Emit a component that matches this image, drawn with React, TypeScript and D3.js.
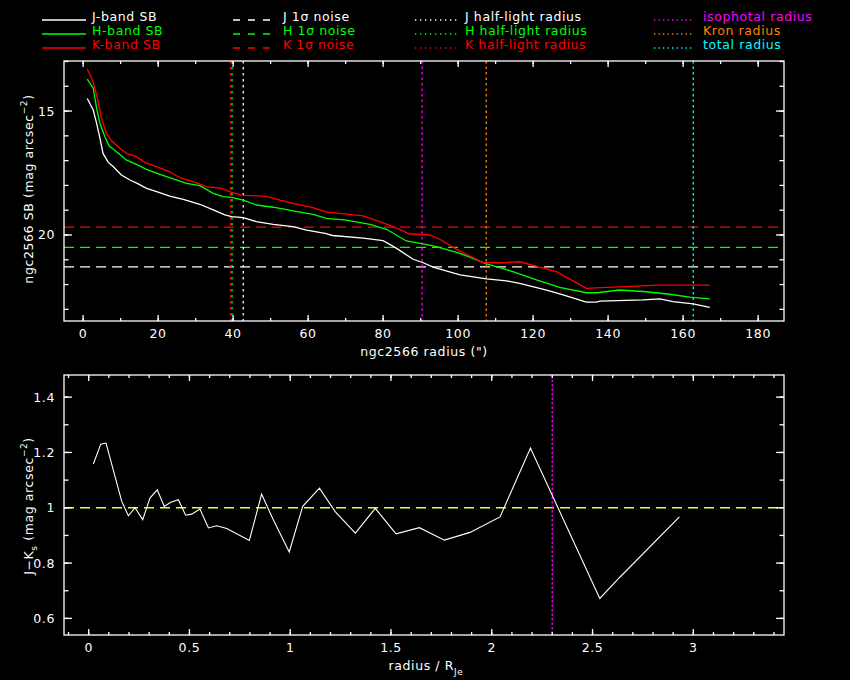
import * as d3 from 'd3';

const W = 850;
const H = 680;
const FONT = '"DejaVu Sans", sans-serif';

// surface brightness profiles: [radius ("), SB (mag arcsec^-2)]
const jProfile: [number, number][] = [
  [1.1, 14.49], [2.7, 14.96], [3.6, 15.5], [4.5, 16.1], [5.3, 16.71], [6.7, 17.07], [8.0, 17.24],
  [10.2, 17.58], [12.5, 17.78], [14.7, 17.94], [16.9, 18.12], [19.6, 18.25], [23.1, 18.43],
  [26.7, 18.56], [31.1, 18.76], [34.7, 18.99], [37.8, 19.19], [39.6, 19.26], [42.7, 19.3],
  [46.2, 19.46], [50.7, 19.57], [56.0, 19.66], [59.6, 19.8], [64.5, 19.93], [66.5, 20.02],
  [74.7, 20.13], [80.0, 20.23], [83.6, 20.54], [88.0, 20.98], [90.7, 21.12], [93.3, 21.3],
  [100.5, 21.61], [107.6, 21.77], [112.9, 21.85], [116.4, 21.95], [123.6, 22.22], [128.0, 22.42],
  [134.2, 22.71], [136.9, 22.71], [137.8, 22.67], [149.3, 22.62], [153.8, 22.58], [157.3, 22.69],
  [162.7, 22.78], [167.1, 22.92],
];
const hProfile: [number, number][] = [
  [1.1, 13.71], [2.7, 14.08], [3.6, 14.89], [4.5, 15.5], [5.8, 16.04], [6.9, 16.4], [8.9, 16.64],
  [11.6, 16.98], [14.2, 17.15], [16.9, 17.35], [20.5, 17.55], [24.0, 17.74], [27.6, 17.92],
  [31.1, 18.01], [34.7, 18.32], [37.3, 18.45], [39.6, 18.48], [42.7, 18.59], [46.2, 18.79],
  [50.7, 18.88], [56.0, 19.03], [61.3, 19.17], [64.9, 19.33], [70.2, 19.4], [76.5, 19.57],
  [80.9, 19.77], [86.2, 20.24], [90.7, 20.36], [94.2, 20.47], [100.5, 20.74], [107.6, 21.17],
  [113.8, 21.44], [120.9, 21.81], [127.1, 22.11], [134.2, 22.33], [136.9, 22.33], [143.1, 22.22],
  [150.2, 22.29], [156.4, 22.39], [161.8, 22.51], [167.1, 22.58],
];
const kProfile: [number, number][] = [
  [1.1, 13.31], [2.5, 13.75], [3.6, 14.35], [4.9, 15.3], [6.2, 15.9], [7.6, 16.21], [9.8, 16.5],
  [11.6, 16.71], [14.2, 16.84], [16.5, 17.08], [19.6, 17.24], [23.1, 17.45], [25.8, 17.69],
  [29.3, 17.85], [32.9, 18.05], [36.9, 18.12], [39.6, 18.28], [42.2, 18.39], [48.9, 18.44],
  [52.5, 18.59], [56.0, 18.72], [61.3, 18.9], [64.9, 19.08], [68.5, 19.13], [74.7, 19.23],
  [79.1, 19.46], [82.7, 19.66], [87.1, 19.96], [92.4, 20.0], [95.1, 20.17], [99.6, 20.58],
  [106.7, 21.12], [112.0, 21.12], [116.4, 21.08], [121.8, 21.3], [126.2, 21.48], [134.2, 22.15],
  [139.6, 22.11], [147.6, 22.06], [152.9, 22.02], [167.1, 22.02],
];

// 1-sigma noise levels (J, H, K)
const noiseLevels = [21.29, 20.5, 19.68];
// radii: J/H/K half-light, isophotal, Kron, total
const halfLight = [42.7, 39.7, 39.3];
const isophotalRadius = 90.4;
const kronRadius = 107.5;
const totalRadius = 162.7;

// colour profile J-Ks vs radius / R_Je
const colourR = [
  0.023, 0.06, 0.086, 0.164, 0.197, 0.23, 0.268, 0.304, 0.34, 0.375, 0.407, 0.445, 0.481, 0.511,
  0.552, 0.594, 0.635, 0.685, 0.797, 0.858, 0.916, 0.995, 1.062, 1.145, 1.222, 1.323, 1.422,
  1.525, 1.641, 1.765, 1.892, 2.041, 2.192, 2.536, 2.633, 2.931,
];
const colourJK = [
  1.158, 1.23, 1.234, 1.023, 0.971, 1.0, 0.957, 1.035, 1.065, 1.005, 1.02, 1.029, 0.973, 0.977,
  0.995, 0.927, 0.935, 0.925, 0.882, 1.049, 0.957, 0.84, 1.005, 1.071, 0.987, 0.908, 0.998,
  0.906, 0.928, 0.883, 0.911, 0.967, 1.216, 0.672, 0.747, 0.967,
];
const colourRef = 1.0;
const isophotalRel = 2.3;

const topXTicks = d3.range(0, 181, 20);
const topXMinor = d3.range(0, 181, 10);
const topYTicks = [15, 20];
const topYMinor = d3.range(13, 24, 1);
const botXTicks = [0, 0.5, 1, 1.5, 2, 2.5, 3];
const botXMinor = d3.range(-0.1, 3.45, 0.1);
const botYTicks = [0.6, 0.8, 1, 1.2, 1.4];
const botYMinor = d3.range(0.6, 1.45, 0.1);

const WHITE = '#ffffff';
const GREEN = '#00ff00';
const RED = '#ff0000';
const MAGENTA = '#ff00ff';
const ORANGE = '#ff8000';
const CYAN = '#00ffff';
const YELLOW = '#ffff00';

const top = { l: 64, r: 784, t: 61, b: 321 };
const bot = { l: 64, r: 784, t: 375, b: 635 };

const xTop = d3.scaleLinear([-5.1, 186.9], [top.l, top.r]);
const yTop = d3.scaleLinear([12.98, 23.47], [top.t, top.b]);
const xBot = d3.scaleLinear([-0.1225, 3.45], [bot.l, bot.r]);
const yBot = d3.scaleLinear([0.54, 1.48], [bot.b, bot.t]);

const txt = { fill: WHITE, fontFamily: FONT, fontSize: 12.5, letterSpacing: 0.6 };

function Frame({ box, xs, ys, xMajor, xMinor, yMajor, yMinor }: any) {
  const out: any[] = [];
  xMinor.forEach((v: number, i: number) => {
    const x = xs(v);
    out.push(<line key={'xb' + i} x1={x} x2={x} y1={box.b} y2={box.b - 3} />);
    out.push(<line key={'xt' + i} x1={x} x2={x} y1={box.t} y2={box.t + 3} />);
  });
  xMajor.forEach((v: number, i: number) => {
    const x = xs(v);
    out.push(<line key={'Xb' + i} x1={x} x2={x} y1={box.b} y2={box.b - 6} />);
    out.push(<line key={'Xt' + i} x1={x} x2={x} y1={box.t} y2={box.t + 6} />);
  });
  yMinor.forEach((v: number, i: number) => {
    const y = ys(v);
    out.push(<line key={'yl' + i} x1={box.l} x2={box.l + 4.5} y1={y} y2={y} />);
    out.push(<line key={'yr' + i} x1={box.r} x2={box.r - 4.5} y1={y} y2={y} />);
  });
  yMajor.forEach((v: number, i: number) => {
    const y = ys(v);
    out.push(<line key={'Yl' + i} x1={box.l} x2={box.l + 8} y1={y} y2={y} />);
    out.push(<line key={'Yr' + i} x1={box.r} x2={box.r - 8} y1={y} y2={y} />);
  });
  return (
    <g stroke={WHITE} strokeWidth={1.3} fill="none">
      {out}
      <rect x={box.l} y={box.t} width={box.r - box.l} height={box.b - box.t} />
    </g>
  );
}

export default function App() {
  const line = d3.line<[number, number]>().x(d => xTop(d[0])).y(d => yTop(d[1]));
  const colLine = d3.line<number>().x((_, i) => xBot(colourR[i])).y(d => yBot(d));
  const bandColours = [WHITE, GREEN, RED];
  const profiles = [jProfile, hProfile, kProfile];

  const legend1 = ['J-band SB', 'H-band SB', 'K-band SB'];
  const legend2 = ['J 1σ noise', 'H 1σ noise', 'K 1σ noise'];
  const legend3 = ['J half-light radius', 'H half-light radius', 'K half-light radius'];
  const legend4 = ['isophotal radius', 'Kron radius', 'total radius'];
  const legend4Col = [MAGENTA, ORANGE, CYAN];
  const rowY = [20, 34, 48];

  return (
    <svg width={W} height={H} style={{ position: 'absolute', left: 0, top: 0, background: '#000' }}>
      <rect width={W} height={H} fill="#000" />

      {/* legend */}
      {rowY.map((y, i) => (
        <g key={'lg' + i}>
          <line x1={42} x2={86} y1={y} y2={y} stroke={bandColours[i]} strokeWidth={1.3} />
          <text x={92} y={y + 0.8} {...txt} fill={bandColours[i]}>{legend1[i]}</text>
          <line x1={233} x2={277} y1={y} y2={y} stroke={bandColours[i]} strokeWidth={1.3} strokeDasharray="7,8" />
          <text x={283} y={y + 0.8} {...txt} fill={bandColours[i]}>{legend2[i]}</text>
          <line x1={415} x2={458} y1={y} y2={y} stroke={bandColours[i]} strokeWidth={1.3} strokeDasharray="1.3,3.7" />
          <text x={465} y={y + 0.8} {...txt} fill={bandColours[i]}>{legend3[i]}</text>
          <line x1={654} x2={694} y1={y} y2={y} stroke={legend4Col[i]} strokeWidth={1.3} strokeDasharray="1.3,3.2" />
          <text x={703} y={y + 0.8} {...txt} fill={legend4Col[i]}>{legend4[i]}</text>
        </g>
      ))}

      {/* top panel */}
      <defs>
        <clipPath id="clipTop"><rect x={top.l} y={top.t} width={top.r - top.l} height={top.b - top.t} /></clipPath>
        <clipPath id="clipBot"><rect x={bot.l} y={bot.t} width={bot.r - bot.l} height={bot.b - bot.t} /></clipPath>
      </defs>
      <g clipPath="url(#clipTop)">
        {noiseLevels.map((v, i) => (
          <line key={'n' + i} x1={top.l} x2={top.r} y1={yTop(v)} y2={yTop(v)}
            stroke={bandColours[i]} strokeWidth={1.3} strokeDasharray="10,6" />
        ))}
        {halfLight.map((v, i) => (
          <line key={'hl' + i} x1={xTop(v)} x2={xTop(v)} y1={top.t} y2={top.b}
            stroke={bandColours[i]} strokeWidth={1.3} strokeDasharray="2.5,3.5" />
        ))}
        <line x1={xTop(isophotalRadius)} x2={xTop(isophotalRadius)} y1={top.t} y2={top.b}
          stroke={MAGENTA} strokeWidth={1.3} strokeDasharray="2.5,3" />
        <line x1={xTop(kronRadius)} x2={xTop(kronRadius)} y1={top.t} y2={top.b}
          stroke={ORANGE} strokeWidth={1.3} strokeDasharray="2.5,3" />
        <line x1={xTop(totalRadius)} x2={xTop(totalRadius)} y1={top.t} y2={top.b}
          stroke={CYAN} strokeWidth={1.3} strokeDasharray="2.5,3" />
        {profiles.map((p, i) => (
          <path key={'p' + i} d={line(p) ?? ''} fill="none" stroke={bandColours[i]} strokeWidth={1.3} />
        ))}
      </g>
      <Frame box={top} xs={xTop} ys={yTop} xMajor={topXTicks} xMinor={topXMinor} yMajor={topYTicks} yMinor={topYMinor} />
      {topXTicks.map(v => (
        <text key={'tx' + v} x={xTop(v)} y={338} textAnchor="middle" {...txt}>{v}</text>
      ))}
      {topYTicks.map(v => (
        <text key={'ty' + v} x={55} y={yTop(v) + 4.5} textAnchor="end" {...txt}>{v}</text>
      ))}
      <text x={424} y={356} textAnchor="middle" {...txt}>ngc2566 radius (")</text>
      <text transform="translate(33,189) rotate(-90)" textAnchor="middle" {...txt}>
        ngc2566 SB (mag arcsec<tspan dy={-6} fontSize={9}>−2</tspan><tspan dy={6}>)</tspan>
      </text>

      {/* bottom panel */}
      <g clipPath="url(#clipBot)">
        <line x1={bot.l} x2={bot.r} y1={yBot(colourRef)} y2={yBot(colourRef)}
          stroke={YELLOW} strokeWidth={1.3} strokeDasharray="10,6" />
        <line x1={xBot(isophotalRel)} x2={xBot(isophotalRel)} y1={bot.t} y2={bot.b}
          stroke={MAGENTA} strokeWidth={1.3} strokeDasharray="2.5,2" />
        <path d={colLine(colourJK) ?? ''} fill="none" stroke={WHITE} strokeWidth={1.1} />
      </g>
      <Frame box={bot} xs={xBot} ys={yBot} xMajor={botXTicks} xMinor={botXMinor} yMajor={botYTicks} yMinor={botYMinor} />
      {botXTicks.map(v => (
        <text key={'bx' + v} x={xBot(v)} y={652} textAnchor="middle" {...txt}>{String(v)}</text>
      ))}
      {botYTicks.map(v => (
        <text key={'by' + v} x={55} y={yBot(v) + 4.5} textAnchor="end" {...txt}>{String(v)}</text>
      ))}
      <text x={426} y={670} textAnchor="middle" {...txt}>
        radius / R<tspan dy={5} fontSize={9}>Je</tspan>
      </text>
      <text transform="translate(33,506) rotate(-90)" textAnchor="middle" {...txt}>
        J−K<tspan dy={4} fontSize={9}>s</tspan><tspan dy={-4}> (mag arcsec</tspan><tspan dy={-6} fontSize={9}>−2</tspan><tspan dy={6}>)</tspan>
      </text>
    </svg>
  );
}
